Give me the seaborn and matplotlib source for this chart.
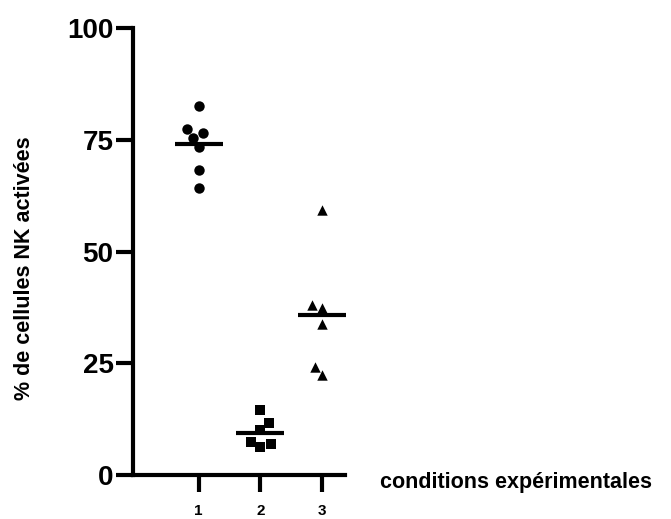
import numpy as np
import pandas as pd
import matplotlib
matplotlib.use("Agg")
import matplotlib.pyplot as plt
import seaborn as sns

# values
conditions = ["1", "2", "3"]
cond1 = [82.6, 77.4, 76.5, 75.4, 73.4, 68.2, 64.2]
cond2 = [14.5, 11.6, 10.1, 7.4, 6.3, 6.9]
cond3 = [59.3, 38.0, 37.4, 33.8, 24.2, 22.4]
markers = ["o", "s", "^"]
y_ticks = [0, 25, 50, 75, 100]

df = pd.DataFrame({
    "cond": ["1"] * len(cond1) + ["2"] * len(cond2) + ["3"] * len(cond3),
    "pct": cond1 + cond2 + cond3,
})

sns.set_style("ticks", {"axes.edgecolor": "black", "xtick.color": "black",
                        "ytick.color": "black", "text.color": "black",
                        "axes.labelcolor": "black"})
plt.rcParams["font.family"] = ["Liberation Sans", "DejaVu Sans"]

fig = plt.figure(figsize=(6.71, 5.19), dpi=100)
ax = fig.add_axes([133 / 671, 1 - 475 / 519, 212 / 671, 447 / 519])

for c, m in zip(conditions, markers):
    sns.swarmplot(data=df[df.cond == c], x="cond", y="pct", order=conditions,
                  marker=m, color="black", size=7.5, ax=ax)

# mean bars
sns.pointplot(data=df, x="cond", y="pct", order=conditions, errorbar=None,
              color="black", marker="_", linestyle="none",
              markersize=34, markeredgewidth=3, ax=ax)

ax.set_ylim(0, 100)
ax.set_xlim(-1.06, 2.37)
ax.set_yticks(y_ticks)
ax.set_yticklabels([str(v) for v in y_ticks], fontsize=20, fontweight="bold")
ax.set_xticks(range(len(conditions)))
ax.set_xticklabels(conditions, fontsize=11, fontweight="bold")

sns.despine(ax=ax)
for s in ["left", "bottom"]:
    ax.spines[s].set_linewidth(3)
ax.tick_params(axis="y", length=12, width=3, pad=2)
ax.tick_params(axis="x", length=12, width=3, pad=9)

ax.set_xlabel("conditions expérimentales", fontsize=15.5, fontweight="bold",
              ha="left", va="center")
ax.xaxis.set_label_coords(1.165, -0.016)
ax.set_ylabel("% de cellules NK activées", fontsize=15.5, fontweight="bold",
              va="center")
ax.yaxis.set_label_coords(-0.514, 0.463)

fig.savefig("out.png", dpi=100)
